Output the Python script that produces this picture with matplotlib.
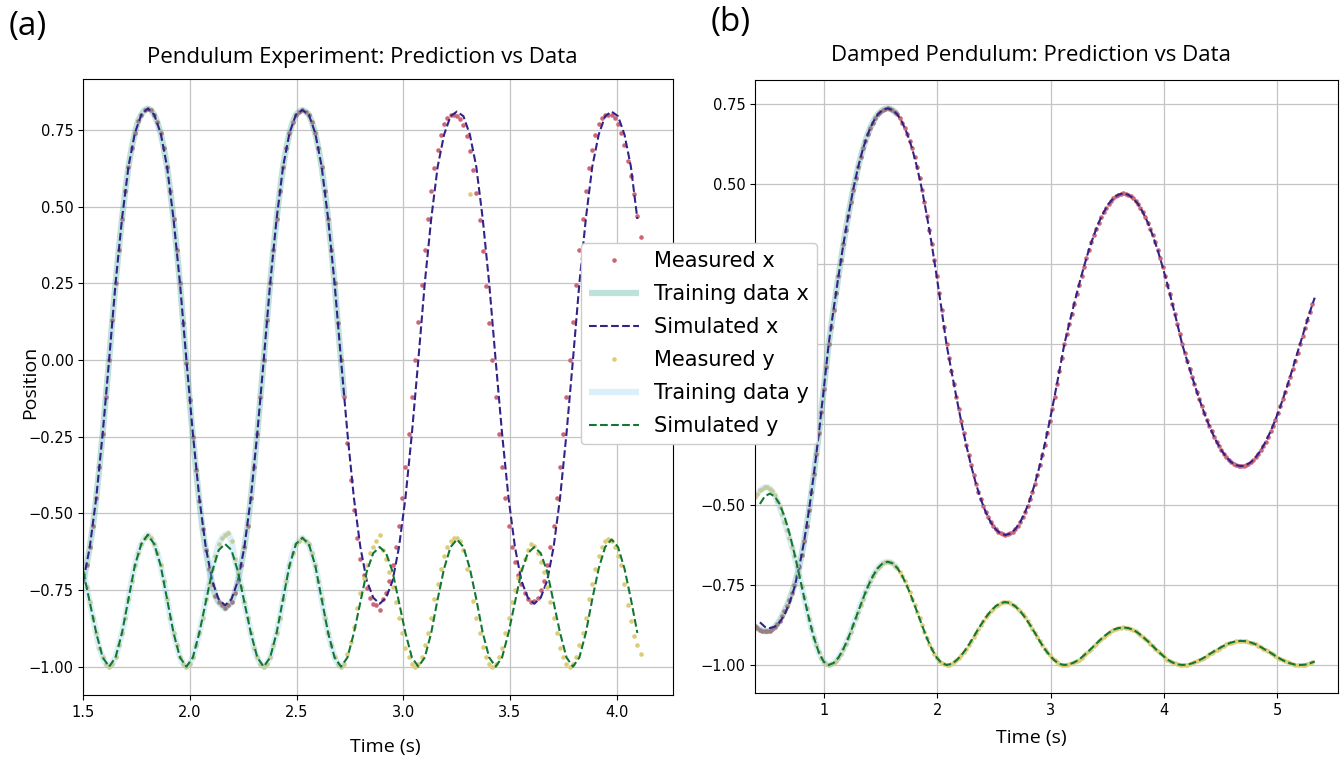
import numpy as np
import matplotlib
matplotlib.use("Agg")
import matplotlib.pyplot as plt

# ---------------- panel (a): pendulum experiment ----------------
t0_sim_a, dt_sim_a = 1.5, 0.0302
t0_meas_a, dt_meas_a = 1.5, 0.0151
n_train_a = 82

sim_x_a = [
    -0.72, -0.61, -0.45, -0.24,
    0.00, 0.25, 0.46, 0.63, 0.74, 0.80, 0.82, 0.80, 0.74, 0.63, 0.46, 0.25,
    0.00, -0.24, -0.45, -0.61, -0.72, -0.78, -0.80, -0.78, -0.72, -0.61, -0.45, -0.24,
    0.00, 0.25, 0.46, 0.63, 0.74, 0.80, 0.815, 0.80, 0.74, 0.63, 0.46, 0.25,
    0.00, -0.24, -0.45, -0.61, -0.72, -0.775, -0.795, -0.775, -0.72, -0.61, -0.45, -0.24,
    0.00, 0.25, 0.46, 0.63, 0.735, 0.795, 0.81, 0.795, 0.735, 0.63, 0.46, 0.25,
    0.00, -0.24, -0.45, -0.61, -0.72, -0.775, -0.795, -0.775, -0.72, -0.61, -0.45, -0.24,
    0.00, 0.25, 0.46, 0.63, 0.735, 0.795, 0.81, 0.795, 0.735, 0.63, 0.46,
]
sim_y_a = [
    -0.69, -0.79, -0.89, -0.97,
    -1.00, -0.97, -0.89, -0.78, -0.67, -0.60, -0.57, -0.60, -0.67, -0.78, -0.89, -0.97,
    -1.00, -0.97, -0.89, -0.79, -0.69, -0.62, -0.60, -0.62, -0.69, -0.79, -0.89, -0.97,
    -1.00, -0.97, -0.89, -0.78, -0.67, -0.60, -0.58, -0.60, -0.67, -0.78, -0.89, -0.97,
    -1.00, -0.97, -0.89, -0.79, -0.69, -0.63, -0.61, -0.63, -0.69, -0.79, -0.89, -0.97,
    -1.00, -0.97, -0.89, -0.78, -0.68, -0.61, -0.585, -0.61, -0.68, -0.78, -0.89, -0.97,
    -1.00, -0.97, -0.89, -0.79, -0.69, -0.63, -0.61, -0.63, -0.69, -0.79, -0.89, -0.97,
    -1.00, -0.97, -0.89, -0.78, -0.68, -0.61, -0.585, -0.61, -0.68, -0.78, -0.89,
]
meas_x_a = [
    -0.72, -0.67, -0.61, -0.54, -0.45, -0.35, -0.24, -0.12,
    0.00, 0.13, 0.25, 0.36, 0.46, 0.55, 0.63, 0.69, 0.74, 0.78, 0.80, 0.815,
    0.82, 0.815, 0.80, 0.775, 0.74, 0.69, 0.63, 0.55, 0.46, 0.36, 0.25, 0.12,
    -0.01, -0.13, -0.25, -0.36, -0.46, -0.55, -0.62, -0.68, -0.73, -0.77, -0.79, -0.80,
    -0.81, -0.80, -0.79, -0.76, -0.72, -0.67, -0.61, -0.54, -0.45, -0.35, -0.24, -0.12,
    0.00, 0.13, 0.25, 0.36, 0.46, 0.55, 0.63, 0.69, 0.74, 0.775, 0.80, 0.81, 0.815,
    0.81, 0.80, 0.775, 0.74, 0.69, 0.63, 0.55, 0.46, 0.36, 0.25, 0.12, 0.00, -0.12,
    -0.27, -0.39, -0.49, -0.58, -0.65, -0.70, -0.745, -0.775, -0.795, -0.80, -0.815,
    -0.78, -0.76, -0.72, -0.67, -0.61, -0.54, -0.45, -0.35, -0.24, -0.12, 0.00,
    0.125, 0.245, 0.36, 0.46, 0.55, 0.625, 0.685, 0.735, 0.77, 0.79, 0.80, 0.80,
    0.795, 0.785, 0.765, 0.73, 0.68, 0.62, 0.545, 0.455, 0.355, 0.24, 0.12, 0.00,
    -0.12, -0.24, -0.35, -0.45, -0.54, -0.61, -0.66, -0.70, -0.73, -0.76, -0.78, -0.79,
    -0.785, -0.775, -0.75, -0.72, -0.67, -0.61, -0.54, -0.45, -0.35, -0.24, -0.12, 0.00,
    0.125, 0.245, 0.36, 0.46, 0.55, 0.625, 0.685, 0.735, 0.77, 0.79, 0.80,
    0.80, 0.80, 0.79, 0.77, 0.74, 0.70, 0.65, 0.60, 0.54, 0.47, 0.40,
]
meas_y_a = [
    -0.69, -0.74, -0.79, -0.84, -0.89, -0.94, -0.97, -0.99,
    -1.00, -0.99, -0.97, -0.93, -0.89, -0.84, -0.78, -0.72, -0.67, -0.63, -0.60, -0.58,
    -0.57, -0.58, -0.60, -0.63, -0.67, -0.72, -0.78, -0.84, -0.89, -0.93, -0.97, -0.99,
    -1.00, -0.99, -0.97, -0.93, -0.89, -0.84, -0.78, -0.73, -0.68, -0.64, -0.60, -0.58,
    -0.57, -0.565, -0.59, -0.65, -0.69, -0.74, -0.79, -0.84, -0.89, -0.94, -0.97, -0.99,
    -1.00, -0.99, -0.97, -0.93, -0.89, -0.84, -0.78, -0.72, -0.67, -0.63, -0.60, -0.59, -0.58,
    -0.59, -0.60, -0.63, -0.67, -0.72, -0.78, -0.84, -0.89, -0.93, -0.97, -0.99, -1.00, -0.99,
    -0.96, -0.92, -0.87, -0.81, -0.76, -0.71, -0.67, -0.63, -0.61, -0.59, -0.57,
    -0.62, -0.65, -0.69, -0.74, -0.79, -0.84, -0.89, -0.94, -0.97, -0.99, -1.00,
    -0.99, -0.97, -0.93, -0.89, -0.84, -0.78, -0.73, -0.68, -0.64, -0.61, -0.59, -0.58,
    -0.58, -0.59, -0.62, -0.68, 0.54, -0.785, -0.84, -0.89, -0.935, -0.97, -0.99, -1.00,
    -0.99, -0.97, -0.94, -0.89, -0.84, -0.79, -0.75, -0.71, -0.68, -0.65, -0.62, -0.60,
    -0.605, -0.63, -0.66, -0.69, -0.74, -0.79, -0.84, -0.89, -0.94, -0.97, -0.99, -1.00,
    -0.99, -0.97, -0.93, -0.89, -0.84, -0.78, -0.73, -0.68, -0.64, -0.61, -0.59,
    -0.585, -0.59, -0.61, -0.64, -0.67, -0.73, -0.80, -0.85, -0.90, -0.93, -0.96,
]

# ---------------- panel (b): damped pendulum ----------------
t0_sim_b, dt_sim_b = 0.435, 0.04333
t0_meas_b, dt_meas_b = 0.3917, 0.021667
n_train_b = 59

sim_x_b = [
    -0.867, -0.881, -0.885, -0.881, -0.867, -0.844, -0.808, -0.760, -0.695, -0.615,
    -0.517, -0.404, -0.278, -0.141, 0.000,
    0.108, 0.212, 0.311, 0.401, 0.482, 0.552, 0.610, 0.656, 0.691, 0.716, 0.730, 0.735,
    0.730, 0.716, 0.691, 0.656, 0.610, 0.552, 0.482, 0.401, 0.311, 0.212, 0.108, 0.000,
    -0.083, -0.164, -0.241, -0.313, -0.378, -0.435, -0.484, -0.524, -0.555, -0.577, -0.590, -0.595,
    -0.590, -0.577, -0.555, -0.524, -0.484, -0.435, -0.378, -0.313, -0.241, -0.164, -0.083, 0.000,
    0.064, 0.126, 0.186, 0.242, 0.294, 0.339, 0.379, 0.411, 0.437, 0.455, 0.466, 0.470,
    0.466, 0.455, 0.437, 0.411, 0.379, 0.339, 0.294, 0.242, 0.186, 0.126, 0.064, 0.000,
    -0.051, -0.101, -0.149, -0.194, -0.235, -0.272, -0.304, -0.331, -0.352, -0.368, -0.377, -0.380,
    -0.377, -0.368, -0.352, -0.331, -0.304, -0.272, -0.235, -0.194, -0.149, -0.101, -0.051, 0.000,
    0.050, 0.100, 0.145,
]
sim_y_b = [
    -0.498, -0.474, -0.466, -0.474, -0.498, -0.537, -0.589, -0.651, -0.719, -0.789,
    -0.856, -0.915, -0.961, -0.990, -1.000,
    -0.994, -0.977, -0.950, -0.916, -0.876, -0.834, -0.793, -0.755, -0.723, -0.698, -0.683, -0.678,
    -0.683, -0.698, -0.723, -0.755, -0.793, -0.834, -0.876, -0.916, -0.950, -0.977, -0.994, -1.000,
    -0.997, -0.986, -0.970, -0.950, -0.926, -0.900, -0.875, -0.852, -0.832, -0.817, -0.807, -0.804,
    -0.807, -0.817, -0.832, -0.852, -0.875, -0.900, -0.926, -0.950, -0.970, -0.986, -0.997, -1.000,
    -0.998, -0.992, -0.983, -0.970, -0.956, -0.941, -0.926, -0.912, -0.900, -0.890, -0.885, -0.883,
    -0.885, -0.890, -0.900, -0.912, -0.926, -0.941, -0.956, -0.970, -0.983, -0.992, -0.998, -1.000,
    -0.999, -0.995, -0.989, -0.981, -0.972, -0.962, -0.953, -0.944, -0.936, -0.930, -0.926, -0.925,
    -0.926, -0.930, -0.936, -0.944, -0.953, -0.962, -0.972, -0.981, -0.989, -0.995, -0.999, -1.000,
    -0.999, -0.995, -0.989,
]
meas_x_b = [
    -0.880, -0.885, -0.890, -0.893, -0.895, -0.895, -0.893, -0.889, -0.882, -0.873,
    -0.862, -0.848, -0.832, -0.815, -0.797, -0.775, -0.752, -0.724,
    -0.695, -0.657, -0.615, -0.568, -0.517, -0.462, -0.404, -0.342, -0.278, -0.210,
    -0.141, -0.071, 0.000,
    0.054, 0.108, 0.161, 0.212, 0.262, 0.311, 0.357, 0.401, 0.443, 0.482, 0.518, 0.552,
    0.582, 0.610, 0.634, 0.656, 0.675, 0.691, 0.705, 0.716, 0.724, 0.730, 0.734, 0.735,
    0.734, 0.730, 0.724, 0.716, 0.705, 0.691, 0.675, 0.656, 0.634, 0.610, 0.582, 0.552,
    0.518, 0.482, 0.443, 0.401, 0.357, 0.311, 0.262, 0.212, 0.161, 0.108, 0.054, 0.000,
    -0.042, -0.083, -0.124, -0.164, -0.203, -0.241, -0.278, -0.313, -0.346, -0.378, -0.407, -0.435,
    -0.460, -0.484, -0.505, -0.524, -0.540, -0.555, -0.567, -0.577, -0.584, -0.590, -0.593, -0.595,
    -0.593, -0.590, -0.584, -0.577, -0.567, -0.555, -0.540, -0.524, -0.505, -0.484, -0.460, -0.435,
    -0.407, -0.378, -0.346, -0.313, -0.278, -0.241, -0.203, -0.164, -0.124, -0.083, -0.042, 0.000,
    0.032, 0.064, 0.095, 0.126, 0.156, 0.186, 0.214, 0.242, 0.268, 0.294, 0.317, 0.339,
    0.359, 0.379, 0.395, 0.411, 0.424, 0.437, 0.446, 0.455, 0.461, 0.466, 0.468, 0.470,
    0.468, 0.466, 0.461, 0.455, 0.446, 0.437, 0.424, 0.411, 0.395, 0.379, 0.359, 0.339,
    0.317, 0.294, 0.268, 0.242, 0.214, 0.186, 0.156, 0.126, 0.095, 0.064, 0.032, 0.000,
    -0.026, -0.051, -0.076, -0.101, -0.125, -0.149, -0.172, -0.194, -0.215, -0.235, -0.254, -0.272,
    -0.288, -0.304, -0.318, -0.331, -0.342, -0.352, -0.360, -0.368, -0.373, -0.377, -0.379, -0.380,
    -0.379, -0.377, -0.373, -0.368, -0.360, -0.352, -0.342, -0.331, -0.318, -0.304, -0.288, -0.272,
    -0.254, -0.235, -0.215, -0.194, -0.172, -0.149, -0.125, -0.101, -0.076, -0.051, -0.026, 0.000,
    0.025, 0.050, 0.075, 0.100, 0.125,
]
meas_y_b = [
    -0.475, -0.466, -0.456, -0.450, -0.446, -0.446, -0.450, -0.458, -0.471, -0.488,
    -0.507, -0.530, -0.555, -0.579, -0.604, -0.632, -0.659, -0.690,
    -0.719, -0.754, -0.789, -0.823, -0.856, -0.886, -0.915, -0.939, -0.961, -0.977,
    -0.990, -0.997, -1.000,
    -0.998, -0.994, -0.987, -0.977, -0.965, -0.950, -0.934, -0.916, -0.897, -0.876, -0.855, -0.834,
    -0.813, -0.793, -0.774, -0.755, -0.738, -0.723, -0.710, -0.698, -0.690, -0.683, -0.679, -0.678,
    -0.679, -0.683, -0.690, -0.698, -0.710, -0.723, -0.738, -0.755, -0.774, -0.793, -0.813, -0.834,
    -0.855, -0.876, -0.897, -0.916, -0.934, -0.950, -0.965, -0.977, -0.987, -0.994, -0.998, -1.000,
    -0.999, -0.997, -0.992, -0.986, -0.979, -0.970, -0.961, -0.950, -0.938, -0.926, -0.913, -0.900,
    -0.888, -0.875, -0.863, -0.852, -0.842, -0.832, -0.824, -0.817, -0.812, -0.807, -0.805, -0.804,
    -0.805, -0.807, -0.812, -0.817, -0.824, -0.832, -0.842, -0.852, -0.863, -0.875, -0.888, -0.900,
    -0.913, -0.926, -0.938, -0.950, -0.961, -0.970, -0.979, -0.986, -0.992, -0.997, -0.999, -1.000,
    -0.999, -0.998, -0.995, -0.992, -0.988, -0.983, -0.977, -0.970, -0.963, -0.956, -0.949, -0.941,
    -0.934, -0.926, -0.919, -0.912, -0.906, -0.900, -0.895, -0.890, -0.888, -0.885, -0.884, -0.883,
    -0.884, -0.885, -0.888, -0.890, -0.895, -0.900, -0.906, -0.912, -0.919, -0.926, -0.934, -0.941,
    -0.949, -0.956, -0.963, -0.970, -0.977, -0.983, -0.988, -0.992, -0.995, -0.998, -0.999, -1.000,
    -1.000, -0.999, -0.997, -0.995, -0.992, -0.989, -0.985, -0.981, -0.977, -0.972, -0.967, -0.962,
    -0.958, -0.953, -0.949, -0.944, -0.940, -0.936, -0.933, -0.930, -0.928, -0.926, -0.925, -0.925,
    -0.925, -0.926, -0.928, -0.930, -0.933, -0.936, -0.940, -0.944, -0.949, -0.953, -0.958, -0.962,
    -0.967, -0.972, -0.977, -0.981, -0.985, -0.989, -0.992, -0.995, -0.997, -0.999, -1.000, -1.000,
    -1.000, -0.999, -0.997, -0.995, -0.992,
]

assert len(sim_x_a) == len(sim_y_a) and len(meas_x_a) == len(meas_y_a)
assert len(sim_x_b) == len(sim_y_b) and len(meas_x_b) == len(meas_y_b)

# Paul Tol muted colours
C_MX, C_MY = "#CC6677", "#DDCC77"
C_TX, C_TY = "#44AA99", "#88CCEE"
C_SX, C_SY = "#332288", "#117733"
TITLE_FONT = "Open Sans"

plt.rcParams["font.size"] = 10.5


def draw_panel(ax, t_meas, mx, my, t_sim, sx, sy, n_train):
    ax.plot(t_meas, mx, "o", ms=3.3, mec="none", color=C_MX, label="Measured x")
    ax.plot(t_meas[:n_train], mx[:n_train], color=C_TX, lw=4.5, alpha=0.35,
            solid_capstyle="butt", label="Training data x")
    ax.plot(t_sim, sx, "--", color=C_SX, lw=1.5, label="Simulated x")
    ax.plot(t_meas, my, "o", ms=3.3, mec="none", color=C_MY, label="Measured y")
    ax.plot(t_meas[:n_train], my[:n_train], color=C_TY, lw=4.5, alpha=0.3,
            solid_capstyle="butt", label="Training data y")
    ax.plot(t_sim, sy, "--", color=C_SY, lw=1.5, label="Simulated y")
    ax.grid(True, color="#c4c4c4", lw=0.9)
    ax.set_axisbelow(True)


fig = plt.figure(figsize=(13.42, 7.61), dpi=100)
ax_a = fig.add_axes([0.0621, 0.0869, 0.4395, 0.8096])
ax_b = fig.add_axes([0.5626, 0.0891, 0.4347, 0.8064])

t_sim_a = t0_sim_a + dt_sim_a * np.arange(len(sim_x_a))
t_meas_a = t0_meas_a + dt_meas_a * np.arange(len(meas_x_a))
draw_panel(ax_a, t_meas_a, np.array(meas_x_a), np.array(meas_y_a),
           t_sim_a, sim_x_a, sim_y_a, n_train_a)
ax_a.set_xlim(1.5, 4.265)
ax_a.set_ylim(-1.092, 0.917)

t_sim_b = t0_sim_b + dt_sim_b * np.arange(len(sim_x_b))
t_meas_b = t0_meas_b + dt_meas_b * np.arange(len(meas_x_b))
draw_panel(ax_b, t_meas_b, np.array(meas_x_b), np.array(meas_y_b),
           t_sim_b, sim_x_b, sim_y_b, n_train_b)
ax_b.set_xlim(t0_meas_b, 5.54)
ax_b.set_ylim(-1.088, 0.825)

# the legend of panel (a) sits over these labels of panel (b)
fig.canvas.draw()
for lab in ax_b.get_yticklabels():
    if lab.get_text() in ("0.25", "0.00", "\u22120.25"):
        lab.set_visible(False)

handles, labels = ax_a.get_legend_handles_labels()
leg = fig.legend(handles, labels, loc="upper left",
                 bbox_to_anchor=(581 / 1342, 1 - 243 / 761), borderaxespad=0,
                 fontsize=15, handlelength=2.4, handletextpad=0.7,
                 borderpad=0.4, labelspacing=0.62, framealpha=1.0)

W, H = 1342, 761
fig.text(9 / W, 1 - 26 / H, "(a)", fontsize=24, family=TITLE_FONT, va="center", ha="left")
fig.text(711 / W, 1 - 23 / H, "(b)", fontsize=24, family=TITLE_FONT, va="center", ha="left")
fig.text(362 / W, 1 - 57 / H, "Pendulum Experiment: Prediction vs Data",
         fontsize=16, family=TITLE_FONT, ha="center", va="center")
fig.text(1031 / W, 1 - 55 / H, "Damped Pendulum: Prediction vs Data",
         fontsize=16, family=TITLE_FONT, ha="center", va="center")
fig.text(385 / W, 1 - 747 / H, "Time (s)", fontsize=14, family=TITLE_FONT,
         ha="center", va="center")
fig.text(1031 / W, 1 - 738 / H, "Time (s)", fontsize=14, family=TITLE_FONT,
         ha="center", va="center")
fig.text(30 / W, 1 - 382 / H, "Position", fontsize=14, family=TITLE_FONT,
         rotation=90, ha="center", va="center")

fig.savefig("out.png", dpi=100)
